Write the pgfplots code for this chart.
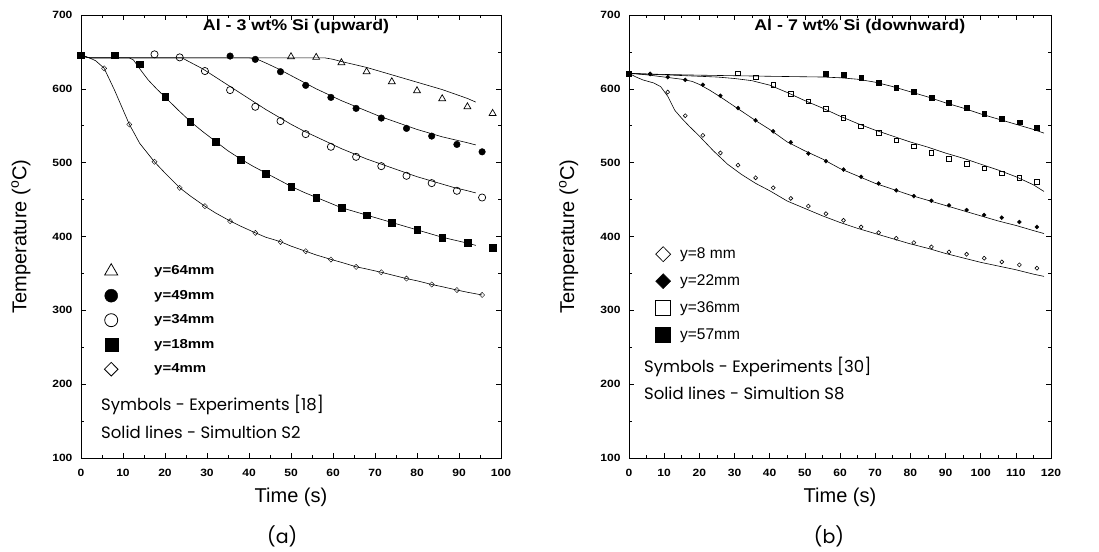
\documentclass[border=0pt]{standalone}
\usepackage{fontspec}
\setmainfont{Liberation Sans}
\newfontfamily\tickf[FakeStretch=1.15]{Liberation Sans}
\newfontfamily\goth{Poppins}
\usepackage{pgfplots}
\pgfplotsset{compat=1.18}
\pgfplotsset{
  panel/.style={
    scale only axis, height=443pt, clip mode=individual,
    ymin=100, ymax=700, ytick={100,200,...,700},
    minor x tick num=1, minor y tick num=1,
    tick align=inside, major tick length=5pt, minor tick length=3pt,
    axis line style={line width=0.8pt},
    every tick/.style={black, line width=0.6pt},
    /pgf/number format/assume math mode=true,
    ticklabel style={font=\tickf\bfseries\fontsize{10.5}{12}\selectfont},
    xticklabel style={anchor=center, yshift=-15pt},
    yticklabel style={xshift=-5pt},
    xlabel style={font=\fontsize{20}{24}\selectfont, at={(axis description cs:0.5,-0.088)}, anchor=center},
    ylabel style={font=\fontsize{20}{24}\selectfont, at={(axis description cs:-0.143,0.5)}, anchor=center},
    xlabel={Time (s)}, ylabel={Temperature (\textsuperscript{o}C)},
    legend cell align=left,
  },
  sim/.style={black, line width=0.6pt, no marks, forget plot},
  exp/.style={only marks, forget plot, mark options={line width=0.7pt}},
}
\begin{document}
\begin{tikzpicture}
\useasboundingbox (0,0) rectangle (1099pt,551pt);
% ---------------- (a) ----------------
\begin{axis}[panel, at={(81pt,93pt)}, anchor=south west, width=420pt,
  xmin=0, xmax=100, xtick={0,10,...,100},
  legend style={draw=none, fill=none, at={(axis description cs:0.0429,0.4543)}, anchor=north west,
    font=\tickf\bfseries\fontsize{13}{15}\selectfont, row sep=0pt,
    nodes={inner sep=0pt, minimum height=24.5pt}},
  legend image code/.code={\path[draw=none,fill=none] (-9pt,-6pt) rectangle (43pt,6pt); \draw[#1] plot coordinates {(0pt,0pt)};},
]
\addplot[sim] coordinates {(0,645)(2,642)(58,642)(60,640)(62,637)(65,633)(68,629)(71,624)(74,619)(77,614)(80,609)(83,604)(86,599)(89,593)(92,587)(94,582)};
\addplot[sim] coordinates {(0,645)(2,642)(40,642)(42,640)(44,635)(47,627)(50,618)(53,609)(56,600)(59,592)(62,584)(65,577)(68,570)(71,563)(74,557)(77,551)(80,545)(83,540)(86,535)(89,531)(92,527)(94,524)};
\addplot[sim] coordinates {(0,645)(2,642)(24,642)(26,636)(29,627)(32,616)(35,605)(38,594)(41,583)(44,572)(47,562)(50,552)(53,543)(56,535)(59,527)(62,519)(65,512)(68,505)(71,499)(74,493)(77,487)(80,481)(83,476)(86,471)(89,466)(92,462)(94,459)};
\addplot[sim] coordinates {(0,645)(2,642)(11.5,642)(12.5,639)(14,627)(16,612)(18,600)(20,589)(23,572)(26,556)(29,542)(32,529)(35,516)(38,505)(41,495)(44,486)(47,477)(50,468)(53,460)(56,453)(59,446)(62,439)(65,434)(68,429)(71,424)(74,419)(77,414)(80,409)(83,404)(86,399)(89,395)(92,391)(94,388)};
\addplot[sim] coordinates {(0,645)(2,642)(3.5,638)(5.5,628)(8,598)(11.5,552)(14,526)(17.5,501)(20,486)(23.5,466)(26,455)(29.5,441)(32,432)(35.5,421)(38,414)(41.5,405)(44,399)(47.5,393)(50,387)(53.5,380)(56,375)(59.5,369)(62,365)(65.5,359)(68,356)(71.5,351.5)(74,348)(77.5,343)(80,340)(83.5,335)(86,332)(89.5,327.5)(92,324.5)(95.5,320.8)};
\addplot[exp, mark=triangle, mark size=4pt] coordinates {(50,643.5)(56,642.6)(62,635.4)(68,623.2)(74,609.6)(80,597.4)(86,586.6)(92,575.7)(98,566.7)};
\addplot[exp, mark=*, mark size=3.3pt, mark options={fill=black}] coordinates {(35.5,644.4)(41.5,639.9)(47.5,623.2)(53.5,604.7)(59.5,588.4)(65.5,573.5)(71.5,560.4)(77.5,546.4)(83.5,536.0)(89.5,524.7)(95.5,514.7)};
\addplot[exp, mark=o, mark size=3.6pt] coordinates {(17.5,646.7)(23.5,642.6)(29.5,624.1)(35.5,598.3)(41.5,575.7)(47.5,556.3)(53.5,538.7)(59.5,521.5)(65.5,507.9)(71.5,495.3)(77.5,482.2)(83.5,472.3)(89.5,461.9)(95.5,452.8)};
\addplot[exp, mark=square*, mark size=3.3pt, mark options={fill=black}] coordinates {(0,645.8)(8,645.8)(14,633.1)(20,589.3)(26,555.4)(32,528.3)(38,504.3)(44,485.4)(50,467.3)(56,452.8)(62,439.3)(68,428.9)(74,418.5)(80,409.4)(86,398.6)(92,391.8)(98,385.0)};
\addplot[exp, mark=diamond, mark size=2.6pt, mark options={xscale=1.3}] coordinates {(5.5,627.7)(11.5,551.8)(17.5,501.2)(23.5,465.9)(29.5,441.1)(35.5,420.7)(41.5,404.9)(47.5,392.7)(53.5,380.1)(59.5,368.8)(65.5,358.8)(71.5,351.5)(77.5,343.0)(83.5,335.0)(89.5,327.5)(95.5,320.8)};
\addlegendimage{only marks, mark=triangle, mark size=7.5pt, mark options={line width=0.8pt}}
\addlegendentry{y=64mm}
\addlegendimage{only marks, mark=*, mark size=6.5pt, mark options={fill=black}}
\addlegendentry{y=49mm}
\addlegendimage{only marks, mark=o, mark size=6.5pt, mark options={line width=0.8pt}}
\addlegendentry{y=34mm}
\addlegendimage{only marks, mark=square*, mark size=6.5pt, mark options={fill=black}}
\addlegendentry{y=18mm}
\addlegendimage{only marks, mark=diamond, mark size=6.8pt, mark options={line width=0.8pt, xscale=1.33}}
\addlegendentry{y=4mm}
\node[font=\tickf\bfseries\fontsize{15.5}{17}\selectfont, anchor=center] at (axis description cs:0.512,0.973) {Al - 3 wt\% Si (upward)};
\node[font=\goth\fontsize{16.5}{18}\selectfont, anchor=west, inner sep=0pt] at (axis description cs:0.0476,0.1196) {Symbols - Experiments [18]};
\node[font=\goth\fontsize{16.5}{18}\selectfont, anchor=west, inner sep=0pt] at (axis description cs:0.0476,0.0587) {Solid lines - Simultion S2};
\node[font=\goth\fontsize{19}{22}\selectfont, anchor=center] at (axis description cs:0.479,-0.178) {(a)};
\end{axis}
% ---------------- (b) ----------------
\begin{axis}[panel, at={(629pt,93pt)}, anchor=south west, width=422pt,
  xmin=0, xmax=120, xtick={0,10,...,120},
  legend style={draw=none, fill=none, at={(axis description cs:0.0521,0.4955)}, anchor=north west,
    font=\fontsize{15.5}{17}\selectfont, row sep=0pt,
    nodes={inner sep=0pt, minimum height=27pt}},
  legend image code/.code={\path[draw=none,fill=none] (-9pt,-6pt) rectangle (17pt,6pt); \draw[#1] plot coordinates {(0pt,0pt)};},
]
\addplot[sim] coordinates {(0,621)(5,620)(20,618.5)(40,617)(55,616)(60,615)(65,613)(70,609)(75,603)(80,596)(85,589)(90,581)(95,574)(100,566)(105,559)(110,552)(115,545)(118,540)};
\addplot[sim] coordinates {(0,621)(15,618)(25,616)(30,614)(35,611)(40,605)(45,595)(50,584)(55,574)(60,563)(65,553)(70,544)(75,536)(80,528)(85,521)(90,513)(95,506)(100,498)(105,490)(110,481)(115,470)(118,461)};
\addplot[sim] coordinates {(0,621)(5,619)(10,616)(15,613)(18,610)(20,606)(23,598)(26,589)(31,573)(36,557)(40,545)(45,528)(50,516)(55,505)(60,492)(65,482)(70,472)(75,464)(80,456)(85,449)(90,442)(95,435)(100,428)(105,421)(110,415)(115,408)(118,404)};
\addplot[sim] coordinates {(0,621)(2,616)(4,612)(7,608)(9,603)(11,590)(13,571)(15,560)(17,550)(20,536)(24,516)(28,498)(32,484)(36,472)(40,462)(45,448)(50,438)(55,428)(60,419)(65,411)(70,404)(75,397)(80,390)(85,384)(90,377)(95,371)(100,365)(105,360)(110,355)(115,349)(118,346)};
\addplot[exp, mark=square*, mark size=2.4pt, mark options={fill=black}] coordinates {(0,621)(56,621)(61,619)(66,615.4)(71,608.7)(76,601.9)(81,595.6)(86,588)(91,580.8)(96,574)(101,566.4)(106,559.6)(111,554.7)(116,547)};
\addplot[exp, mark=square, mark size=2.3pt] coordinates {(31,621)(36,615.8)(41,605.5)(46,593.3)(51,583)(56,572.7)(61,560.5)(66,549.3)(71,540.3)(76,530)(81,522.3)(86,513.3)(91,505.2)(96,498.4)(101,492.2)(106,485.4)(111,479.6)(116,474.2)};
\addplot[exp, mark=diamond*, mark size=2pt, mark options={fill=black, xscale=1.3}] coordinates {(6,620)(11,615.8)(16,612.2)(21,605.5)(26,590.6)(31,574)(36,557.3)(41,542.5)(46,527.6)(51,512.3)(56,502)(61,490.7)(66,480.8)(71,471.8)(76,462.4)(81,454.7)(86,448.4)(91,442.1)(96,435.8)(101,429.1)(106,425.5)(111,419.6)(116,412.9)};
\addplot[exp, mark=diamond, mark size=2pt, mark options={line width=0.6pt, xscale=1.3}] coordinates {(6,620.3)(11,595.6)(16,563.6)(21,537)(26,513.2)(31,496.6)(36,479.5)(41,466)(46,451.6)(51,441.2)(56,430.9)(61,421.9)(66,412.9)(71,405.2)(76,397.6)(81,391.7)(86,385.9)(91,379.1)(96,376)(101,370.6)(106,365.6)(111,361.6)(116,357.1)};
\addlegendimage{only marks, mark=diamond, mark size=7.5pt, mark options={line width=0.7pt, xscale=1.33}}
\addlegendentry{y=8 mm}
\addlegendimage{only marks, mark=diamond*, mark size=7.5pt, mark options={fill=black, xscale=1.33}}
\addlegendentry{y=22mm}
\addlegendimage{only marks, mark=square, mark size=7.5pt, mark options={line width=0.7pt}}
\addlegendentry{y=36mm}
\addlegendimage{only marks, mark=square*, mark size=7.5pt, mark options={fill=black}}
\addlegendentry{y=57mm}
\node[font=\tickf\bfseries\fontsize{15.5}{17}\selectfont, anchor=center] at (axis description cs:0.547,0.973) {Al - 7 wt\% Si (downward)};
\node[font=\goth\fontsize{16.5}{18}\selectfont, anchor=west, inner sep=0pt] at (axis description cs:0.0355,0.2054) {Symbols - Experiments [30]};
\node[font=\goth\fontsize{16.5}{18}\selectfont, anchor=west, inner sep=0pt] at (axis description cs:0.0355,0.1467) {Solid lines - Simultion S8};
\node[font=\goth\fontsize{19}{22}\selectfont, anchor=center] at (axis description cs:0.474,-0.178) {(b)};
\end{axis}
\end{tikzpicture}
\end{document}
